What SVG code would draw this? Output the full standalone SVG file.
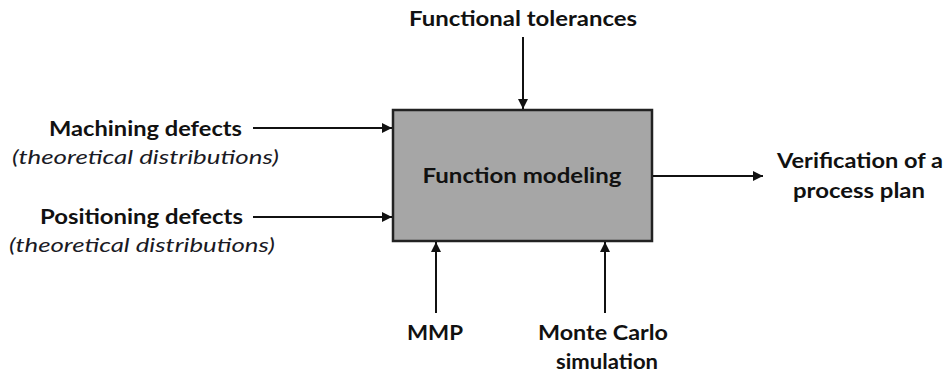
<svg xmlns="http://www.w3.org/2000/svg" width="950" height="378" viewBox="0 0 950 378">
<style>
text{font-family:Lato,"Open Sans","Liberation Sans",sans-serif;font-size:20px;fill:#111;}
.b{font-weight:700;}
.i{font-style:italic;fill:#1a1a24;}
.c{stroke:#111;stroke-width:2;fill:none;}
</style>
<defs>
<marker id="ah" markerWidth="10" markerHeight="10" refX="10" refY="5" orient="auto" markerUnits="userSpaceOnUse"><path d="M0,0 L10,5 L0,10 Z" fill="#111"/></marker>
</defs>
<rect width="950" height="378" fill="#fff"/>
<g id="function-modeling">
<rect x="393" y="110" width="259" height="131" fill="#a6a6a6" stroke="#222" stroke-width="2.5"/>
<text class="b" x="522" y="183" text-anchor="middle" textLength="199" lengthAdjust="spacingAndGlyphs">Function modeling</text>
</g>
<g id="functional-tolerances"><text class="b" x="523" y="26" text-anchor="middle" textLength="228" lengthAdjust="spacingAndGlyphs">Functional tolerances</text></g>
<g id="machining-defects">
<text class="b" x="242" y="136" text-anchor="end" textLength="193" lengthAdjust="spacingAndGlyphs">Machining defects</text>
<text class="i" x="279" y="164" text-anchor="end" textLength="267" lengthAdjust="spacingAndGlyphs">(theoretical distributions)</text>
</g>
<g id="positioning-defects">
<text class="b" x="243" y="224" text-anchor="end" textLength="203" lengthAdjust="spacingAndGlyphs">Positioning defects</text>
<text class="i" x="275" y="252" text-anchor="end" textLength="266" lengthAdjust="spacingAndGlyphs">(theoretical distributions)</text>
</g>
<g id="verification">
<text class="b" x="860" y="168" text-anchor="middle" textLength="166" lengthAdjust="spacingAndGlyphs">Verification of a</text>
<text class="b" x="859" y="198" text-anchor="middle" textLength="132" lengthAdjust="spacingAndGlyphs">process plan</text>
</g>
<g id="mmp"><text class="b" x="435" y="340" text-anchor="middle" textLength="56" lengthAdjust="spacingAndGlyphs">MMP</text></g>
<g id="monte-carlo">
<text class="b" x="603" y="340" text-anchor="middle" textLength="130" lengthAdjust="spacingAndGlyphs">Monte Carlo</text>
<text class="b" x="607" y="369" text-anchor="middle" textLength="102" lengthAdjust="spacingAndGlyphs">simulation</text>
</g>
<g id="connectors">
<line class="c" x1="523" y1="37" x2="523" y2="109" marker-end="url(#ah)"/>
<line class="c" x1="253" y1="128" x2="392" y2="128" marker-end="url(#ah)"/>
<line class="c" x1="253" y1="217" x2="392" y2="217" marker-end="url(#ah)"/>
<line class="c" x1="653" y1="176" x2="763" y2="176" marker-end="url(#ah)"/>
<line class="c" x1="436" y1="313" x2="436" y2="242" marker-end="url(#ah)"/>
<line class="c" x1="605" y1="313" x2="605" y2="242" marker-end="url(#ah)"/>
</g>
</svg>
